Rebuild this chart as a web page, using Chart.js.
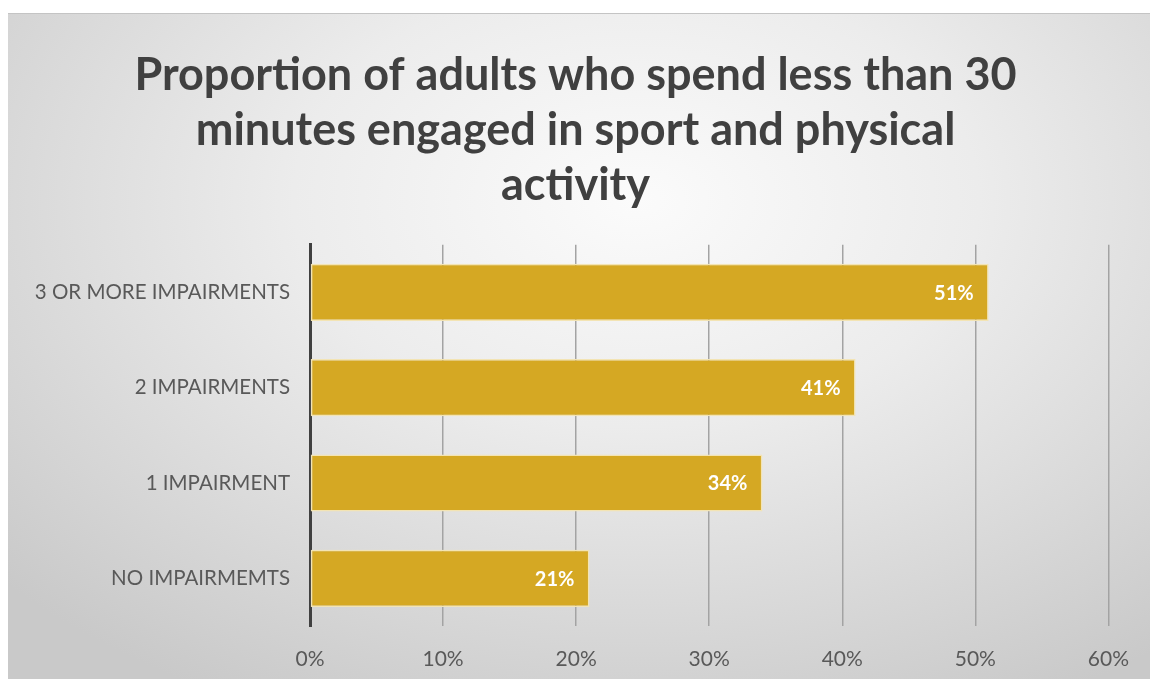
<!DOCTYPE html>
<html lang="en">
<head>
    <meta charset="UTF-8">
    <title>Proportion of adults who spend less than 30 minutes engaged in sport</title>
    <script src="https://cdn.jsdelivr.net/npm/chart.js"></script>
    <style>
        html, body {
            margin: 0;
            padding: 0;
            background: #ffffff;
        }
        #panel {
            position: absolute;
            left: 8px;
            top: 13px;
            width: 1142px;
            height: 666px;
            background: radial-gradient(ellipse 75% 85% at 55% 28%, #fbfbfb 0%, #ececec 40%, #c9c9c9 100%);
            border-top: 1px solid #c4c4c4;
        }
    </style>
</head>
<body>
    <div id="panel">
        <canvas id="chart" width="1142" height="666"></canvas>
    </div>

    <script>
        // data
        const categories = ['3 OR MORE IMPAIRMENTS', '2 IMPAIRMENTS', '1 IMPAIRMENT', 'NO IMPAIRMEMTS'];
        const values = [51, 41, 34, 21];
        const tickValues = [0, 10, 20, 30, 40, 50, 60];
        const titleLines = ['Proportion of adults who spend less than 30', 'minutes engaged in sport and physical', 'activity'];

        // white labels at the inside end of each bar
        const barLabels = {
            id: 'barLabels',
            afterDatasetsDraw(chart) {
                const ctx = chart.ctx;
                const meta = chart.getDatasetMeta(0);
                ctx.save();
                ctx.fillStyle = '#ffffff';
                ctx.font = 'bold 20px Lato, "Open Sans", sans-serif';
                ctx.textAlign = 'right';
                ctx.textBaseline = 'middle';
                meta.data.forEach((bar, i) => {
                    ctx.fillText(values[i] + '%', bar.x - 15, bar.y + 1);
                });
                ctx.restore();
            }
        };

        const ctx = document.getElementById('chart').getContext('2d');
        new Chart(ctx, {
            type: 'bar',
            data: {
                labels: categories,
                datasets: [{
                    data: values,
                    backgroundColor: '#D5A823',
                    borderColor: '#F3E4B4',
                    borderWidth: 1.5,
                    borderSkipped: false,
                    categoryPercentage: 0.6,
                    barPercentage: 1
                }]
            },
            plugins: [barLabels],
            options: {
                indexAxis: 'y',
                responsive: false,
                animation: false,
                // left padding pushes the title centre right, like the original
                layout: { padding: { left: 27, right: 34, top: 0, bottom: 0 } },
                plugins: {
                    legend: { display: false },
                    tooltip: { enabled: false },
                    title: {
                        display: true,
                        text: titleLines,
                        color: '#404040',
                        font: { family: 'Lato, "Open Sans", sans-serif', size: 45, weight: 'bold', lineHeight: 1.22 },
                        padding: { top: 34, bottom: 32 }
                    }
                },
                scales: {
                    x: {
                        min: 0,
                        max: 60,
                        afterBuildTicks(scale) {
                            scale.ticks = tickValues.map(v => ({ value: v }));
                        },
                        afterFit(scale) { scale.height = 54; },
                        grid: { color: '#a3a3a3', lineWidth: 1.5, drawTicks: false },
                        border: { display: false },
                        ticks: {
                            padding: 21,
                            color: '#595959',
                            font: { family: 'Lato, "Open Sans", sans-serif', size: 21 },
                            callback: v => v + '%'
                        }
                    },
                    y: {
                        afterFit(scale) { scale.width = 275; },
                        grid: { display: false },
                        border: { display: true, color: '#404040', width: 3 },
                        ticks: {
                            padding: 12,
                            color: '#595959',
                            font: { family: 'Lato, "Open Sans", sans-serif', size: 20.5 }
                        }
                    }
                }
            }
        });
    </script>
</body>
</html>
